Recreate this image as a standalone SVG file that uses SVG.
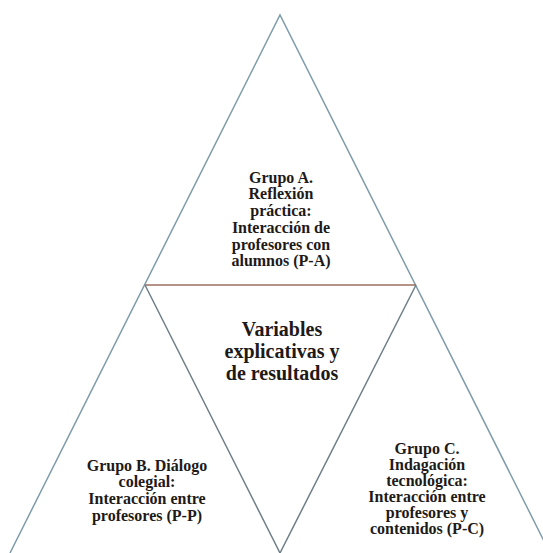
<svg xmlns="http://www.w3.org/2000/svg" width="543" height="553" viewBox="0 0 543 553">
<style>
.t{font-family:"Liberation Serif","Times New Roman",serif;font-weight:bold;font-size:16px;fill:#1e1a18;text-anchor:middle}
.big{font-size:20px}
.side{fill:none;stroke:#7f9cab;stroke-width:1.5}
.mid{stroke:#9a6e60;stroke-width:1.5}
.inv{fill:none;stroke:#6f7f88;stroke-width:1.5}
</style>
<rect width="543" height="553" fill="#ffffff"/>
<g id="connectors">
<polyline class="side" points="10,553 280,15 550,553"/>
<line class="mid" x1="145" y1="285" x2="416" y2="285"/>
<polyline class="inv" points="145,285 280,553 416,285"/>
</g>
<g id="grupoA">
<text class="t" x="281" y="183">Grupo A.</text>
<text class="t" x="281" y="199">Reflexión</text>
<text class="t" x="281" y="216">práctica:</text>
<text class="t" x="281" y="233">Interacción de</text>
<text class="t" x="281" y="250">profesores con</text>
<text class="t" x="281" y="266">alumnos (P-A)</text>
</g>
<g id="centro">
<text class="t big" x="282" y="336">Variables</text>
<text class="t big" x="282" y="358">explicativas y</text>
<text class="t big" x="282" y="380">de resultados</text>
</g>
<g id="grupoB">
<text class="t" x="147" y="471">Grupo B. Diálogo</text>
<text class="t" x="147" y="487">colegial:</text>
<text class="t" x="147" y="504">Interacción entre</text>
<text class="t" x="147" y="521">profesores (P-P)</text>
</g>
<g id="grupoC">
<text class="t" x="427" y="454">Grupo C.</text>
<text class="t" x="427" y="470">Indagación</text>
<text class="t" x="427" y="486">tecnológica:</text>
<text class="t" x="427" y="502">Interacción entre</text>
<text class="t" x="427" y="518">profesores y</text>
<text class="t" x="427" y="534">contenidos (P-C)</text>
</g>
</svg>
